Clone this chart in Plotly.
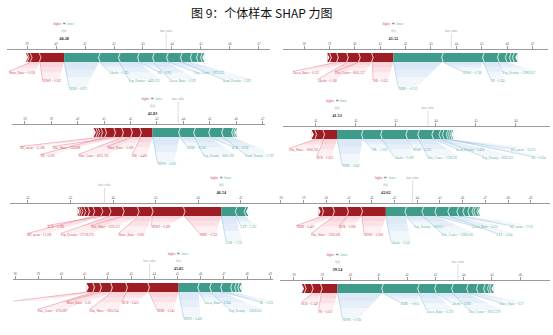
import plotly.graph_objects as go

W, H = 553, 335
BASE_VALUE = 43.8

# ---------------- data ----------------
p1_ticks = [39, 40, 41, 42, 43, 44, 45, 46, 47]
p1_pos = [0.83, 0.31, 0.10, 0.07]
p1_pos_labels = ["NDWI = 0.562", "Water_Ratio = 0.058"]
p1_neg = [1.21, 0.69, 0.66, 0.52, 0.48, 0.48, 0.34, 0.21, 0.14, 0.10]
p1_neg_labels = ["NDBI = 0.872", "Albedo = 0.255", "Pop_Density = 4495.152", "PR = 0.205",
                 "Green_Ratio = 0.139", "Dist_Center = 5973.352", "Road_Density = 2.392"]

p2_ticks = [38, 39, 40, 41, 42, 43, 44, 45, 46, 47]
p2_pos = [0.83, 0.51, 0.47, 0.39, 0.28, 0.12]
p2_pos_labels = ["ISR = 0.655", "Dist_Center = 8061.237", "Albedo = 0.168", "Green_Ratio = 0.132"]
p2_neg = [1.93, 1.61, 0.59, 0.31, 0.16, 0.12, 0.16]
p2_neg_labels = ["NDBI = -0.213", "NDWI = 0.766", "PR = 0.245", "Pop_Density = 12983.057"]

p3_ticks = [38, 39, 40, 41, 42, 43, 44, 45, 46, 47]
p3_pos = [0.45, 0.34, 0.34, 0.30, 0.34, 0.15, 0.11, 0.08, 0.11]
p3_pos_labels = ["ISR = 4.483", "Water_Ratio = 0.008", "Dist_Center = 8612.702",
                 "Dist_Water = 1536.88", "PR = 0.291", "BH_mean = 51.186"]
p3_neg = [1.02, 0.57, 0.57, 0.49, 0.38, 0.08, 0.08]
p3_neg_labels = ["NDWI = 0.632", "NDBI = -0.126", "Pop_Density = 8005.293", "BCR = 0.256",
                 "Road_Density = 3.739"]

p4_ticks = [41, 42, 43, 44, 45, 46]
p4_pos = [0.33, 0.20, 0.10]
p4_pos_labels = ["BCR = 0.613", "Dist_Water = 1806.756"]
p4_neg = [0.63, 0.48, 0.63, 0.30, 0.35, 0.18, 0.08, 0.10, 0.05, 0.05, 0.05]
p4_neg_labels = ["NDBI = 0.047", "ISR = 1.326", "Albedo = 0.169", "NDWI = 0.531",
                 "Dist_Center = 1738.335", "Road_Density = 3.459", "Pop_Density = 8262.321",
                 "BH_mean = 74.135", "PR = 0.224"]

p5_ticks = [42, 43, 44, 45, 46, 47]
p5_pos = [0.87, 0.75, 0.33, 0.35, 0.31, 0.19, 0.19, 0.12, 0.09, 0.07, 0.05, 0.05]
p5_pos_labels = ["NDBI = 0.752", "NDWI = 0.369", "Water_Ratio = 0.003", "Dist_Water = 2220.117",
                 "Pop_Density = 37128.276", "BCR = 0.396", "BH_mean = 13.182"]
p5_neg = [0.35, 0.21, 0.07]
p5_neg_labels = ["FAR = 1.721", "LST = 1.222"]

p6_ticks = [38, 39, 40, 41, 42, 43, 44, 45, 46, 47, 48, 49]
p6_pos = [1.06, 0.62, 0.62, 0.48, 0.18]
p6_pos_labels = ["NDWI = 0.208", "BCR = 0.606", "Dist_Water = 2360.028", "NDBI = 0.467"]
p6_neg = [0.88, 0.75, 0.57, 0.57, 0.40, 0.26, 0.22, 0.18, 0.09, 0.13, 0.09]
p6_neg_labels = ["Albedo = 0.147", "Pop_Density = 10510.1", "Dist_Center = 11958.165",
                 "Green_Ratio = 0.215", "LST = 1.624", "BH_mean = 17.03"]

p7_ticks = [38, 39, 40, 41, 42, 43, 44, 45, 46, 47, 48, 49]
p7_pos = [1.29, 0.95, 0.65, 0.47, 0.30, 0.30]
p7_pos_labels = ["NDBI = 0.141", "BCR = 0.413", "Dist_Water = 1963.034", "Water_Ratio = 0.02",
                 "Dist_Center = 6716.897", "Road_Density = 14.158"]
p7_neg = [0.86, 0.52, 0.47, 0.43, 0.17, 0.13, 0.13]
p7_neg_labels = ["NDWI = 0.495", "Green_Ratio = 0.264", "Pop_Density = 11859.053", "PR = 0.231"]

p8_ticks = [38, 39, 40, 41, 42, 43, 44, 45, 46]
p8_pos = [0.57, 0.32, 0.25, 0.11]
p8_pos_labels = ["PR = 0.021", "BCR = 0.349"]
p8_neg = [1.59, 1.27, 0.60, 0.60, 0.53, 0.35, 0.25, 0.14, 0.07, 0.11]
p8_neg_labels = ["NDWI = 0.766", "NDBI = -0.853", "Green_Ratio = 0.139", "Albedo = 0.292",
                 "Dist_Center = 19112.279", "Water_Ratio = 0.27"]

TITLE = "图 9：个体样本 SHAP 力图"

panels = [
    (p1_ticks, p1_pos, p1_pos_labels, p1_neg, p1_neg_labels),
    (p2_ticks, p2_pos, p2_pos_labels, p2_neg, p2_neg_labels),
    (p3_ticks, p3_pos, p3_pos_labels, p3_neg, p3_neg_labels),
    (p4_ticks, p4_pos, p4_pos_labels, p4_neg, p4_neg_labels),
    (p5_ticks, p5_pos, p5_pos_labels, p5_neg, p5_neg_labels),
    (p6_ticks, p6_pos, p6_pos_labels, p6_neg, p6_neg_labels),
    (p7_ticks, p7_pos, p7_pos_labels, p7_neg, p7_neg_labels),
    (p8_ticks, p8_pos, p8_pos_labels, p8_neg, p8_neg_labels),
]

# ---------------- layout (pixel frames: axis left, axis right, axis line y, x range) -------------
frames = [
    (7, 270, 49, (38.31, 47.38)),
    (283, 548, 49, (37.17, 47.61)),
    (12, 265, 124, (37.51, 47.09)),
    (283, 550, 126, (40.18, 46.85)),
    (10, 277, 203, (41.58, 47.85)),
    (273, 550, 203, (37.65, 49.85)),
    (13, 273, 279, (37.91, 49.12)),
    (280, 550, 280, (37.51, 47.05)),
]

RED = "#9e1c24"
TEAL = "#3f9c8a"
RED_TXT = "#cc3d4f"
TEAL_TXT = "#4ea996"
RED_FILL = "rgba(235,80,110,0.085)"
BLUE_FILL = "rgba(110,170,225,0.09)"
RED_LINE = "rgba(225,90,115,0.6)"
BLUE_LINE = "rgba(120,175,220,0.7)"
FONT = "Liberation Serif"
CW = 1.4          # estimated px per label character
LAB_SIZE = 3.1

fig = go.Figure()
lay = {}


def txt_trace(x, y, text, color, size, pos, xr, yr):
    return go.Scatter(x=x, y=y, text=text, mode="text", textposition=pos,
                      textfont=dict(family=FONT, size=size, color=color),
                      cliponaxis=False, hoverinfo="skip", showlegend=False,
                      xaxis=xr, yaxis=yr)


for k, ((ticks, pos, pos_lab, neg, neg_lab), (x0, x1, ay, rng)) in enumerate(zip(panels, frames), start=1):
    xr = "x" if k == 1 else f"x{k}"
    yr = "y" if k == 1 else f"y{k}"
    xk = "xaxis" if k == 1 else f"xaxis{k}"
    yk = "yaxis" if k == 1 else f"yaxis{k}"
    ppu = (x1 - x0) / (rng[1] - rng[0])

    lay[xk] = dict(domain=[x0 / W, x1 / W], range=list(rng), anchor="free",
                   position=1 - ay / H, side="top", tickvals=ticks,
                   ticktext=[str(t) for t in ticks], showline=True, linecolor="#9a9a9a",
                   linewidth=1, ticks="outside", ticklen=3, tickwidth=0.6, tickcolor="#9a9a9a",
                   tickfont=dict(family=FONT, size=3.3, color="#666"),
                   showgrid=False, zeroline=False, fixedrange=True)
    lay[yk] = dict(domain=[1 - (ay + 45) / H, 1 - (ay - 32) / H], range=[-45, 32],
                   visible=False, anchor=xr, fixedrange=True)

    f = BASE_VALUE + sum(pos) - sum(neg)
    red, c = [], f
    for s in pos:
        red.append((c - s, c))
        c -= s
    teal, c = [], f
    for s in neg:
        teal.append((c, c + s))
        c += s

    top, mid, bot = -4, -8.5, -13

    # ---- label layout ----
    labs = []
    prev = None
    for i, t in enumerate(pos_lab):
        a, b = red[i]
        w = len(t) * CW / ppu
        ex = f - 5 / ppu if i == 0 else min((a + b) / 2, prev + 2 / ppu)
        sx = ex - w
        prev = sx
        ry = -32 if i % 2 == 0 else -24
        labs.append(("r", t, a, b, sx, ex, ry))
    prev = None
    for i, t in enumerate(neg_lab):
        a, b = teal[i]
        w = len(t) * CW / ppu
        sx = f + 5 / ppu if i == 0 else max((a + b) / 2, prev - 2 / ppu)
        ex = sx + w
        prev = ex
        ry = -40 if i == 0 else (-24 if i % 2 == 1 else -32)
        labs.append(("t", t, a, b, sx, ex, ry))

    # wedges (layered to fade away from the bar)
    for side, fill in (("r", RED_FILL), ("t", BLUE_FILL)):
        for tfac in (1.0, 0.6, 0.3):
            px_, py_ = [], []
            for s, t, a, b, sx, ex, ry in labs:
                if s != side:
                    continue
                ly = ry + 2
                yy = bot + tfac * (ly - bot)
                px_ += [a, b, b + tfac * (ex - b), a + tfac * (sx - a), a, None]
                py_ += [bot, bot, yy, yy, bot, None]
            if px_:
                fig.add_trace(go.Scatter(x=px_, y=py_, mode="lines", fill="toself",
                                         fillcolor=fill, line=dict(width=0),
                                         hoverinfo="skip", showlegend=False,
                                         xaxis=xr, yaxis=yr))
    # connector lines
    for side, lc in (("r", RED_LINE), ("t", BLUE_LINE)):
        lx, lyy = [], []
        for s, t, a, b, sx, ex, ry in labs:
            if s != side:
                continue
            lx += [a, sx, None]
            lyy += [bot, ry + 1.5, None]
        if lx:
            fig.add_trace(go.Scatter(x=lx, y=lyy, mode="lines", line=dict(color=lc, width=0.6),
                                     hoverinfo="skip", showlegend=False, xaxis=xr, yaxis=yr))

    # ---- bars ----
    for segs, col in ((red, RED), (teal, TEAL)):
        fig.add_trace(go.Bar(y=[mid] * len(segs), x=[b - a for a, b in segs],
                             base=[a for a, b in segs], orientation="h", width=9,
                             marker=dict(color=col, line=dict(width=0)),
                             hoverinfo="skip", showlegend=False, xaxis=xr, yaxis=yr))

    # chevron separators
    d = 2.0 / ppu
    cx, cy = [], []
    for a, b in red[:-1]:
        cx += [a - d / 2, a + d / 2, a - d / 2, None]
        cy += [top, mid, bot, None]
    for a, b in teal[:-1]:
        cx += [b + d / 2, b - d / 2, b + d / 2, None]
        cy += [top, mid, bot, None]
    fig.add_trace(go.Scatter(x=cx, y=cy, mode="lines", line=dict(color="white", width=0.7),
                             hoverinfo="skip", showlegend=False, xaxis=xr, yaxis=yr))
    ra = red[-1][0]
    tb = teal[-1][1]
    fig.add_trace(go.Scatter(x=[ra, ra + d, ra, ra, None, tb, tb - d, tb, tb],
                             y=[top - 0.5, mid, bot + 0.5, top - 0.5, None, top - 0.5, mid, bot + 0.5, top - 0.5],
                             mode="lines", fill="toself", fillcolor="white",
                             line=dict(width=0, color="white"),
                             hoverinfo="skip", showlegend=False, xaxis=xr, yaxis=yr))

    # labels text
    rl = [l for l in labs if l[0] == "r"]
    tl = [l for l in labs if l[0] == "t"]
    if rl:
        fig.add_trace(txt_trace([l[4] for l in rl], [l[6] for l in rl], [l[1] for l in rl],
                                RED_TXT, LAB_SIZE, "middle right", xr, yr))
    if tl:
        fig.add_trace(txt_trace([l[4] for l in tl], [l[6] for l in tl], [l[1] for l in tl],
                                TEAL_TXT, LAB_SIZE, "middle right", xr, yr))

    # f(x), base value, legend
    base = BASE_VALUE
    by = 25 if abs(f - base) * ppu < 28 else 18
    fig.add_trace(go.Scatter(x=[base, base], y=[0.5, by - 2.5], mode="lines",
                             line=dict(color="#c8c8c8", width=0.6),
                             hoverinfo="skip", showlegend=False, xaxis=xr, yaxis=yr))
    fig.add_trace(txt_trace([base], [by], ["base value"], "#a0a0a0", 3.0, "middle center", xr, yr))
    fig.add_trace(txt_trace([f], [18], ["f(x)"], "#909090", 3.0, "middle center", xr, yr))
    fig.add_trace(txt_trace([f], [10.5], [f"<b>{f:.2f}</b>"], "#222", 4.3, "middle center", xr, yr))
    fig.add_trace(txt_trace([f - 3 / ppu], [25], ["higher"], RED_TXT, 3.0, "middle left", xr, yr))
    fig.add_trace(txt_trace([f], [25], ["⇄"], "#888", 3.4, "middle center", xr, yr))
    fig.add_trace(txt_trace([f + 3 / ppu], [25], ["lower"], TEAL_TXT, 3.0, "middle right", xr, yr))

fig.update_layout(
    width=W, height=H, margin=dict(l=0, r=0, t=0, b=0),
    paper_bgcolor="white", plot_bgcolor="rgba(0,0,0,0)",
    showlegend=False, barmode="overlay",
    annotations=[dict(text=TITLE, x=262 / W, y=1 - 13 / H, xref="paper", yref="paper",
                      showarrow=False, xanchor="center", yanchor="middle",
                      font=dict(family="Noto Sans CJK SC", size=12, color="#111"))],
    **lay,
)

fig.write_html("out.html")
